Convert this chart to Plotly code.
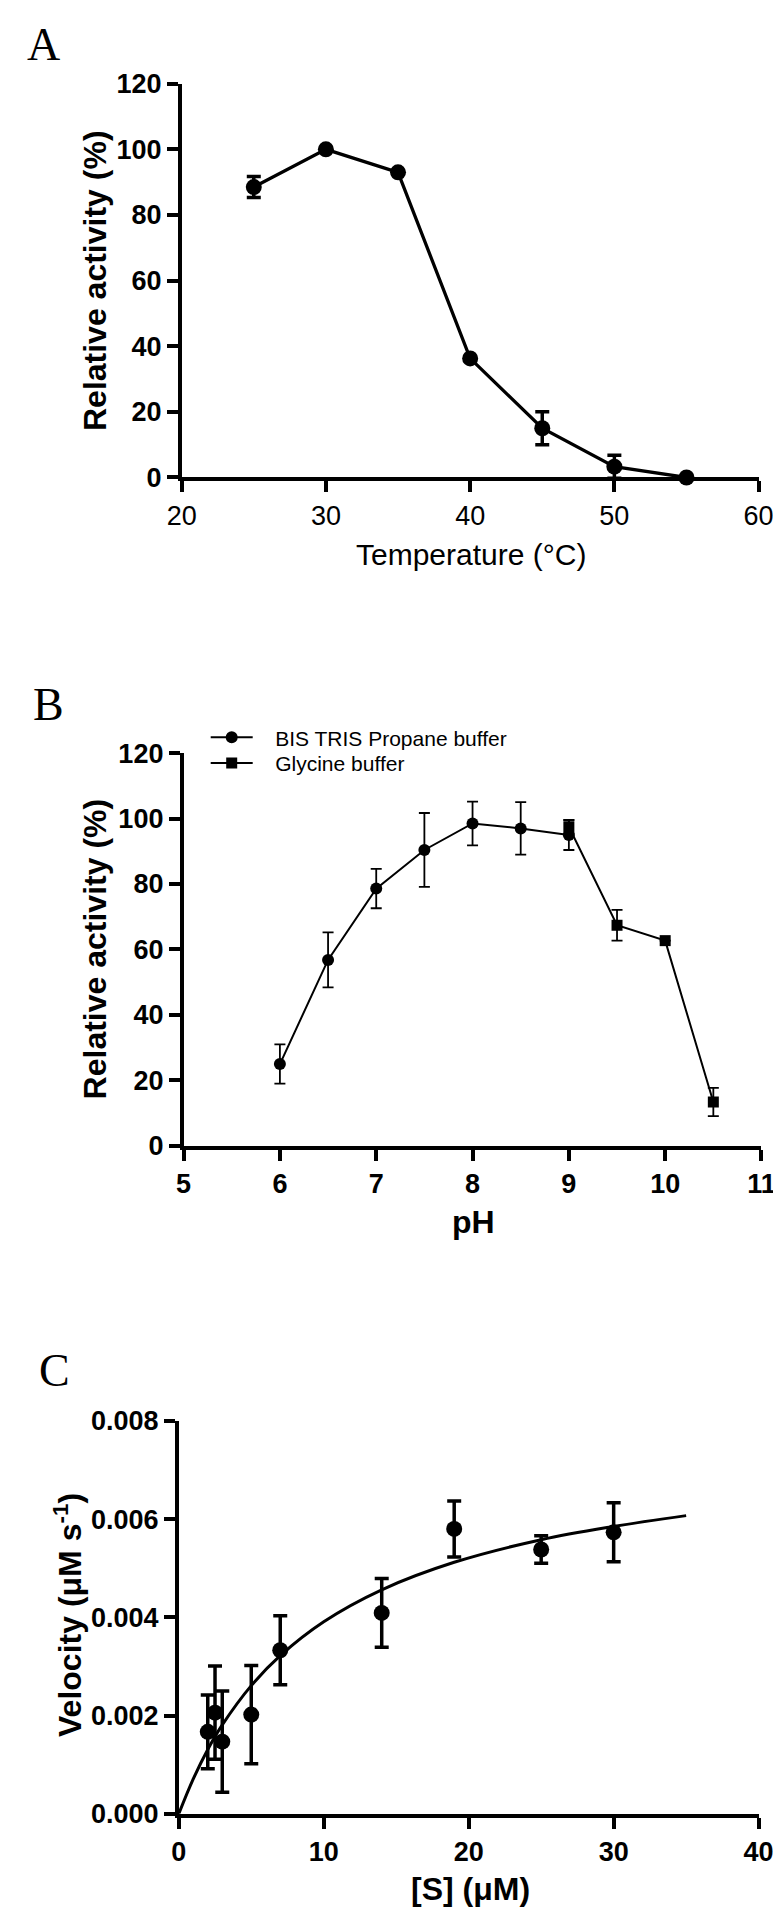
import plotly.graph_objects as go

W, H = 781, 1919

# ---------------- Panel A data ----------------
temp_c = [25, 30, 35, 40, 45, 50, 55]
temp_activity = [88.5, 100.0, 93.0, 36.3, 15.0, 3.3, 0.0]
temp_err = [3.2, 0, 0, 0, 5.0, 3.5, 0]

# ---------------- Panel B data ----------------
ph_bis = [6.0, 6.5, 7.0, 7.5, 8.0, 8.5, 9.0]
act_bis = [25.0, 56.8, 78.6, 90.4, 98.5, 97.0, 95.0]
err_bis = [6.0, 8.4, 6.0, 11.3, 6.7, 8.0, 4.6]
ph_gly = [9.0, 9.5, 10.0, 10.5]
act_gly = [97.5, 67.4, 62.7, 13.4]
err_gly = [2.0, 4.7, 0.0, 4.3]

# ---------------- Panel C data ----------------
s_conc = [2.0, 2.5, 3.0, 5.0, 7.0, 14.0, 19.0, 25.0, 30.0]
velocity = [0.00167, 0.00206, 0.00147, 0.00202, 0.00333, 0.00409, 0.00580, 0.00538, 0.00573]
vel_err = [0.00075, 0.00095, 0.00103, 0.00100, 0.00070, 0.00070, 0.00057, 0.00028, 0.00060]
fit_s = [0, 1, 2, 3, 5, 7, 10, 14, 19, 25, 30, 35]
fit_v = [0.0, 0.00071, 0.00131, 0.00181, 0.00261, 0.00322, 0.00391, 0.00456, 0.00512, 0.00558, 0.00585, 0.00607]


def px_x(p):
    return p / W


def px_y(p):
    return 1 - p / H


SANS = "Liberation Sans"
SERIF = "Liberation Serif"
NB = "\u00a0\u00a0\u00a0"

fig = go.Figure()

# Panel A
fig.add_trace(go.Scatter(
    x=temp_c, y=temp_activity, mode="lines+markers",
    line=dict(color="black", width=3.3),
    marker=dict(symbol="circle", size=16, color="black"),
    error_y=dict(type="data", array=temp_err, visible=True, color="black", thickness=3.5, width=7),
    cliponaxis=False, showlegend=False, xaxis="x", yaxis="y"))

# Panel B
fig.add_trace(go.Scatter(
    x=ph_bis, y=act_bis, mode="lines+markers", name=NB + "BIS TRIS Propane buffer",
    line=dict(color="black", width=2),
    marker=dict(symbol="circle", size=12, color="black"),
    error_y=dict(type="data", array=err_bis, visible=True, color="black", thickness=1.8, width=5.5),
    cliponaxis=False, showlegend=True, legend="legend", xaxis="x2", yaxis="y2"))
fig.add_trace(go.Scatter(
    x=ph_gly, y=act_gly, mode="lines+markers", name=NB + "Glycine buffer",
    line=dict(color="black", width=2),
    marker=dict(symbol="square", size=11, color="black"),
    error_y=dict(type="data", array=err_gly, visible=True, color="black", thickness=1.8, width=5.5),
    cliponaxis=False, showlegend=True, legend="legend2", xaxis="x2", yaxis="y2"))

# Panel C
fig.add_trace(go.Scatter(
    x=fit_s, y=fit_v, mode="lines", line=dict(color="black", width=3, shape="spline"),
    cliponaxis=False, showlegend=False, xaxis="x3", yaxis="y3"))
fig.add_trace(go.Scatter(
    x=s_conc, y=velocity, mode="markers",
    marker=dict(symbol="circle", size=16, color="black"),
    error_y=dict(type="data", array=vel_err, visible=True, color="black", thickness=3.5, width=7),
    cliponaxis=False, showlegend=False, xaxis="x3", yaxis="y3"))

common = dict(showline=True, linecolor="black", linewidth=3.5, ticks="outside",
              ticklen=11, tickwidth=3.5, tickcolor="black", showgrid=False,
              zeroline=False, fixedrange=True)
bold_tick = dict(family=SANS, size=27, color="black", weight="bold")
reg_tick = dict(family=SANS, size=27, color="black")
leg_common = dict(xanchor="left", yanchor="middle",
                  font=dict(family=SANS, size=21, color="black"),
                  bgcolor="rgba(0,0,0,0)", itemwidth=42)

fig.update_layout(
    width=W, height=H, margin=dict(l=0, r=0, t=0, b=0),
    paper_bgcolor="white", plot_bgcolor="white",
    xaxis=dict(domain=[px_x(165), px_x(765)], range=[20, 60], dtick=10, tick0=20,
               anchor="y", tickfont=reg_tick, **common),
    yaxis=dict(domain=[px_y(461.7), px_y(61.7)], range=[0, 120], dtick=20,
               anchor="x", tickfont=bold_tick, **common),
    xaxis2=dict(domain=[px_x(167), px_x(768)], range=[5, 11], dtick=1, tick0=5,
                anchor="y2", tickfont=bold_tick, **common),
    yaxis2=dict(domain=[px_y(1140.7), px_y(741.7)], range=[0, 120], dtick=20,
                anchor="x2", tickfont=bold_tick, **common),
    xaxis3=dict(domain=[px_x(162), px_x(765)], range=[0, 40], dtick=10, tick0=0,
                anchor="y3", tickfont=bold_tick, **common),
    yaxis3=dict(domain=[px_y(1819.3), px_y(1420)], range=[0, 0.008], dtick=0.002,
                tickformat=".3f", anchor="x3", tickfont=bold_tick, **common),
    legend=dict(x=px_x(190), y=px_y(726), **leg_common),
    legend2=dict(x=px_x(190), y=px_y(752), **leg_common),
)

ann = []


def add_text(text, x, y, size, angle=0, family=SANS, bold=True):
    ann.append(dict(text=text, x=px_x(x), y=px_y(y), xref="paper", yref="paper",
                    xanchor="center", yanchor="middle", showarrow=False, textangle=angle,
                    font=dict(family=family, size=size, color="black",
                              weight="bold" if bold else "normal")))


# panel letters
add_text("A", 21, 22, 46, family=SERIF, bold=False)
add_text("B", 27, 692, 46, family=SERIF, bold=False)
add_text("C", 33, 1369, 46, family=SERIF, bold=False)

# axis titles
add_text("Relative activity (%)", 75, 262, 32, angle=-90)
add_text("Temperature (°C)", 466, 540, 30, bold=False)
add_text("Relative activity (%)", 75, 941, 32, angle=-90)
add_text("pH", 468, 1218, 32)
add_text("Velocity (μM s<sup>-1</sup>)", 46, 1617, 32, angle=-90)
add_text("[S] (μM)", 465, 1896, 32)

fig.update_layout(annotations=ann)

fig.write_html("out.html")
